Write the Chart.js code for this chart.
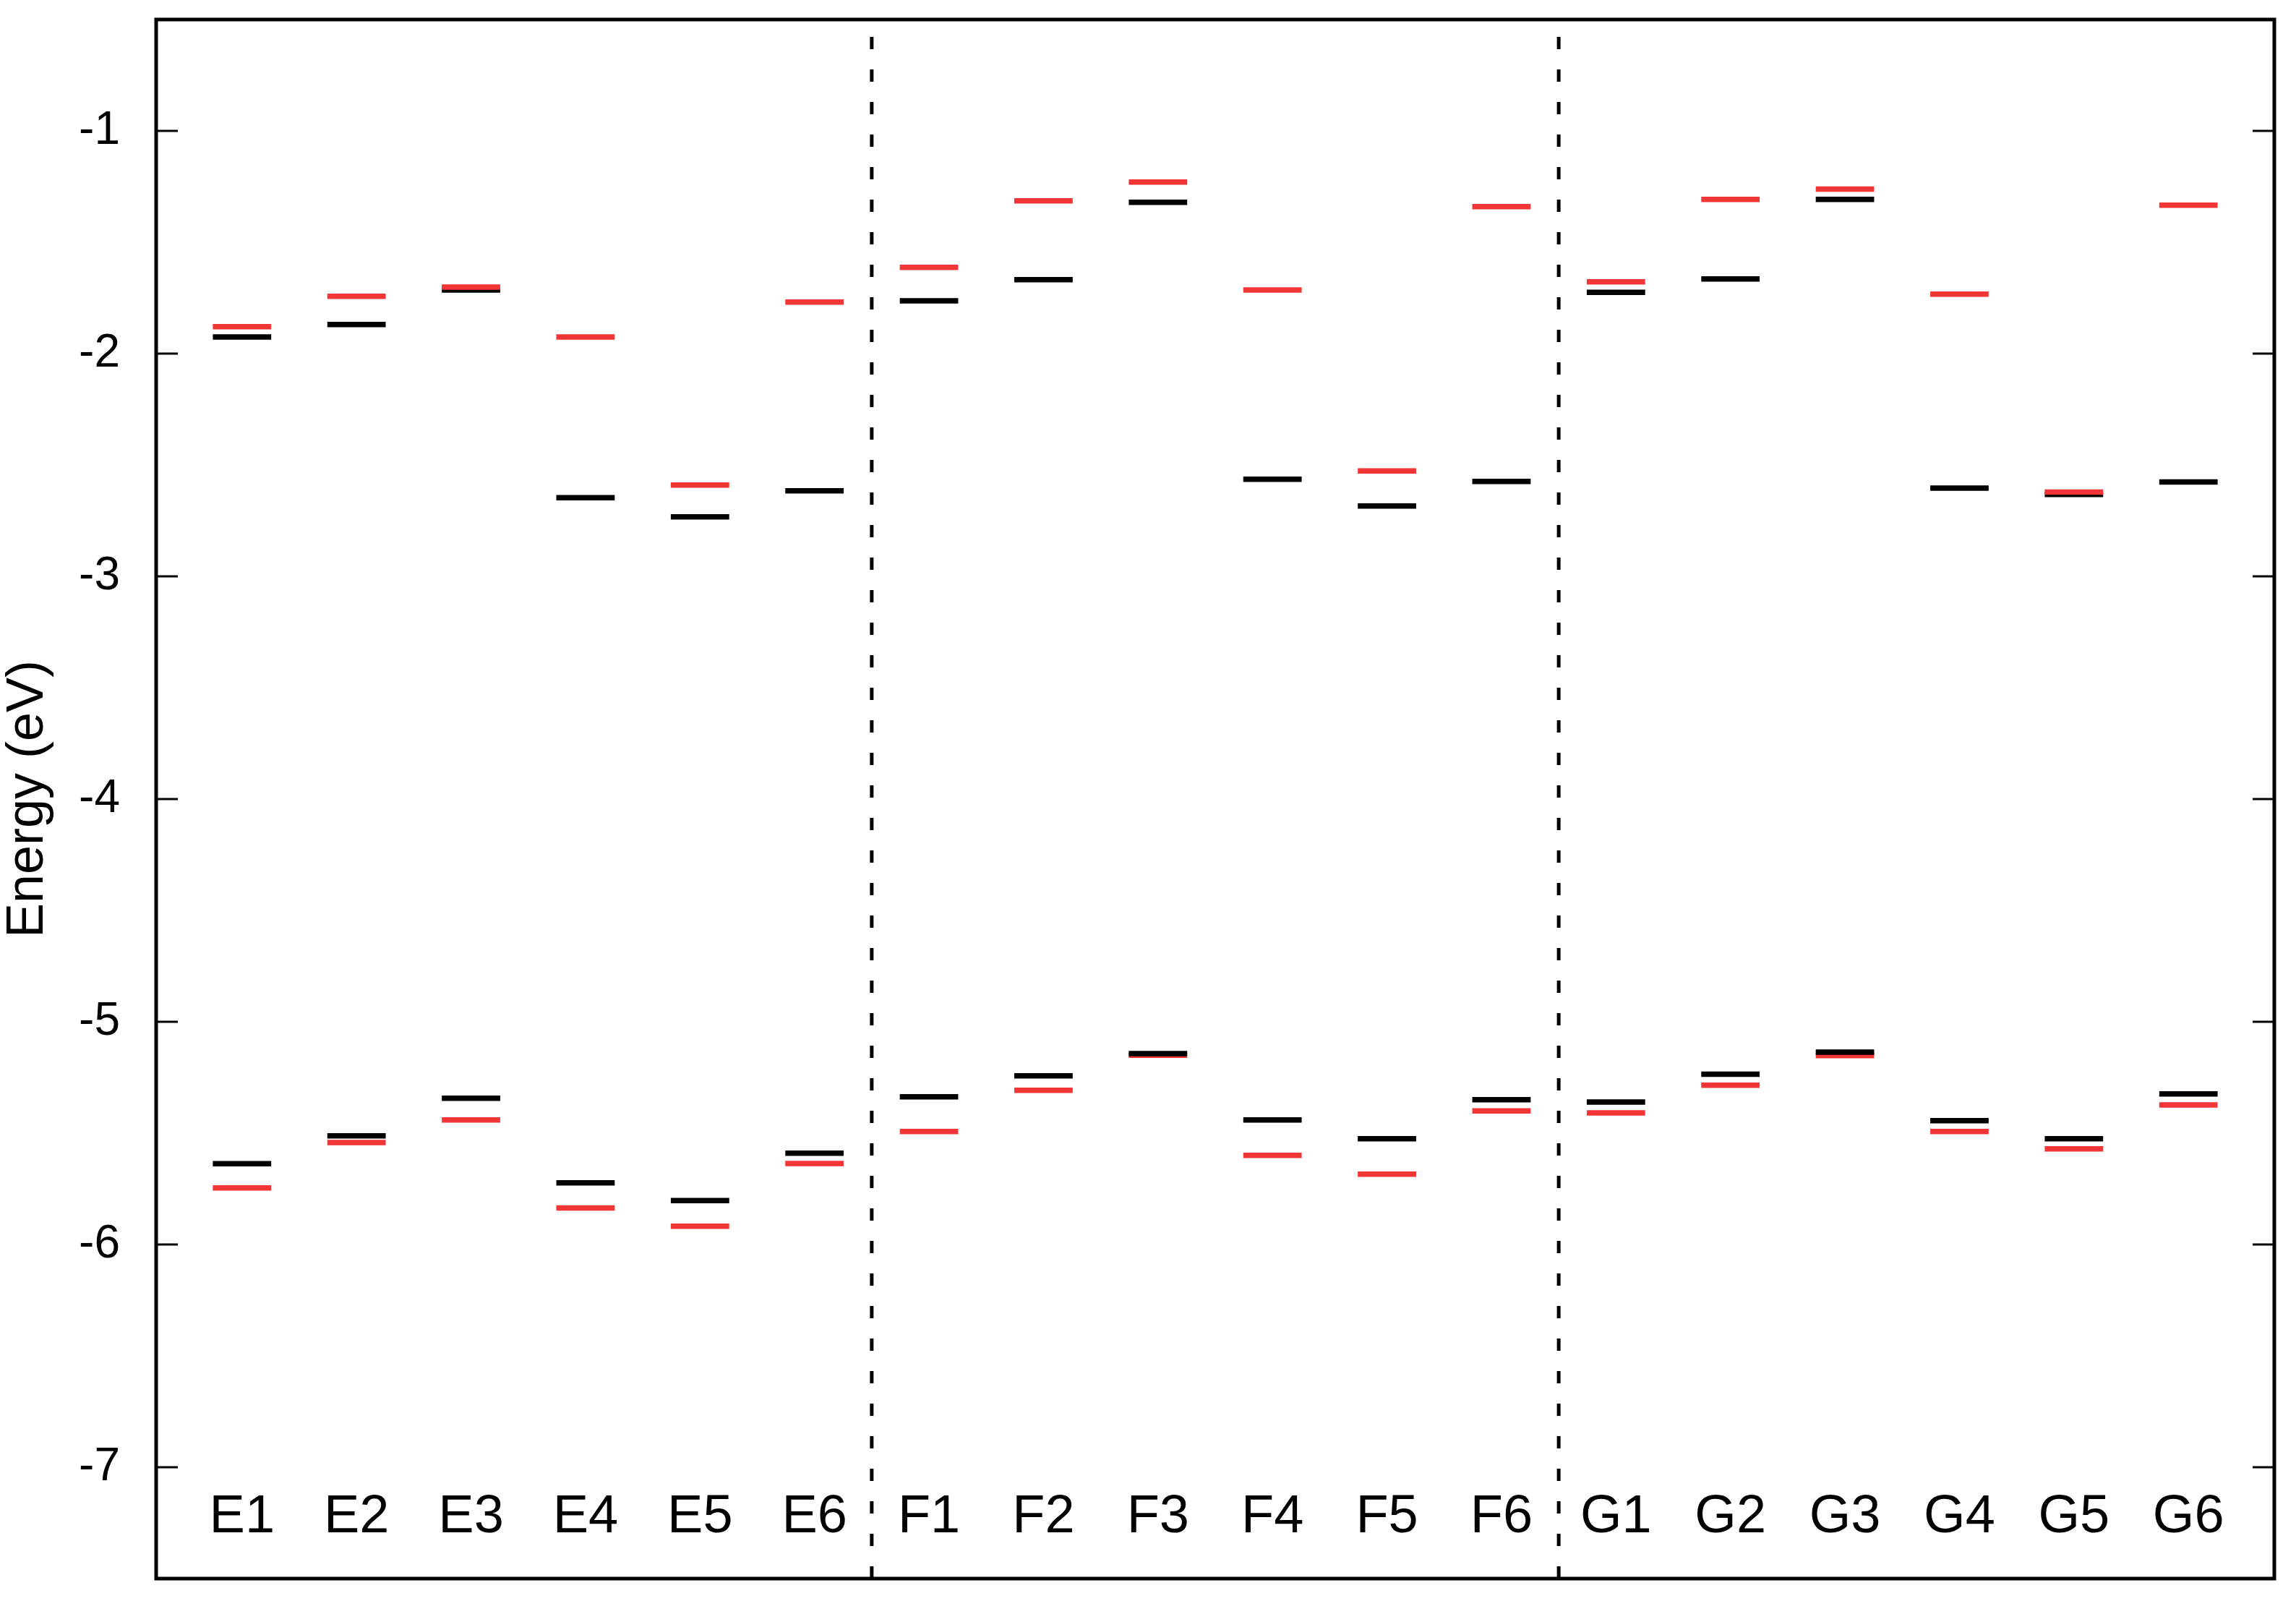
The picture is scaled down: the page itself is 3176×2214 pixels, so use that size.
<!DOCTYPE html>
<html>
<head>
<meta charset="utf-8">
<script src="https://cdn.jsdelivr.net/npm/chart.js@4/dist/chart.umd.min.js"></script>
<style>
  html, body { margin: 0; padding: 0; background: #fff; }
  #wrap { width: 3176px; height: 2214px; position: relative; }
</style>
</head>
<body>
<div id="wrap"><canvas id="myChart"></canvas></div>
<script>
'use strict';

var labels = ['E1', 'E2', 'E3', 'E4', 'E5', 'E6',
              'F1', 'F2', 'F3', 'F4', 'F5', 'F6',
              'G1', 'G2', 'G3', 'G4', 'G5', 'G6'];

// upper levels
var blackHigh = [-1.925, -1.869, -1.714, -2.647, -2.733, -2.616,
                 -1.763, -1.668, -1.321, -2.564, -2.684, -2.574,
                 -1.725, -1.665, -1.308, -2.604, -2.632, -2.576];
var redHigh = [-1.879, -1.743, -1.701, -1.925, -2.590, -1.769,
               -1.613, -1.314, -1.230, -1.714, -2.527, -1.340,
               -1.678, -1.308, -1.261, -1.733, -2.622, -1.334];

// lower levels
var blackLow = [-5.637, -5.512, -5.343, -5.723, -5.803, -5.590,
                -5.337, -5.243, -5.143, -5.441, -5.525, -5.350,
                -5.360, -5.235, -5.136, -5.444, -5.525, -5.324];
var redLow = [-5.746, -5.542, -5.441, -5.836, -5.918, -5.636,
              -5.493, -5.308, -5.150, -5.600, -5.684, -5.400,
              -5.409, -5.285, -5.152, -5.493, -5.571, -5.373];

var yTicks = [-7, -6, -5, -4, -3, -2, -1];
var separators = [6.5, 12.5];

var HALF = 0.255;
var RED = '#f23535';
var FONT = '"Liberation Sans", Arial, Helvetica, sans-serif';

function levels(vals) {
  var pts = [];
  vals.forEach(function(v, i) {
    pts.push({x: i + 1 - HALF, y: v});
    pts.push({x: i + 1 + HALF, y: v});
    pts.push({x: i + 1 + HALF, y: null});
  });
  return pts;
}

function levelSet(vals, color, order) {
  return {
    data: levels(vals),
    borderColor: color,
    borderWidth: 7.5,
    borderCapStyle: 'butt',
    pointRadius: 0,
    spanGaps: false,
    order: order
  };
}

var datasets = [
  levelSet(blackLow, '#000', 1),
  levelSet(redLow, RED, 2),
  levelSet(redHigh, RED, 1),
  levelSet(blackHigh, '#000', 2)
];

separators.forEach(function(s) {
  datasets.push({
    data: [{x: s, y: -7.5}, {x: s, y: -0.5}],
    borderColor: '#000',
    borderWidth: 5,
    borderDash: [17, 28],
    borderCapStyle: 'butt',
    pointRadius: 0,
    order: 5
  });
});

// frame, inward ticks and the category names inside the plot
var framePlugin = {
  id: 'frame',
  afterDraw: function(chart) {
    var c = chart.ctx;
    var a = chart.chartArea;
    var xs = chart.scales.x;
    var ys = chart.scales.y;
    c.save();
    c.strokeStyle = '#000';
    c.lineWidth = 3;
    yTicks.forEach(function(t) {
      var py = ys.getPixelForValue(t);
      c.beginPath();
      c.moveTo(a.left, py);
      c.lineTo(a.left + 30, py);
      c.moveTo(a.right, py);
      c.lineTo(a.right - 30, py);
      c.stroke();
    });
    c.lineWidth = 5;
    c.strokeRect(a.left, a.top, a.right - a.left, a.bottom - a.top);

    c.fillStyle = '#000';
    c.font = '74px ' + FONT;
    c.textAlign = 'center';
    c.textBaseline = 'middle';
    var ly = ys.getPixelForValue(-7.225);
    labels.forEach(function(l, i) {
      c.fillText(l, xs.getPixelForValue(i + 1), ly);
    });
    c.restore();
  }
};

var ctx = document.getElementById('myChart').getContext('2d');

var chart = new Chart(ctx, {
  type: 'line',
  data: { datasets: datasets },
  options: {
    responsive: true,
    maintainAspectRatio: false,
    animation: false,
    devicePixelRatio: 1,
    layout: { padding: { left: 0, top: 27, right: 30, bottom: 31 } },
    plugins: {
      legend: { display: false },
      tooltip: { enabled: false }
    },
    scales: {
      x: {
        type: 'linear',
        min: 0.25,
        max: 18.75,
        display: false
      },
      y: {
        type: 'linear',
        min: -7.5,
        max: -0.5,
        afterBuildTicks: function(scale) {
          scale.ticks = yTicks.map(function(v) { return {value: v}; });
        },
        afterFit: function(scale) {
          scale.width = 216;
          scale.paddingTop = 0;
          scale.paddingBottom = 0;
        },
        grid: { display: false, drawTicks: false },
        border: { display: false },
        ticks: {
          padding: 50,
          color: '#000',
          font: { family: FONT, size: 64 },
          callback: function(v) { return String(v); }
        },
        title: {
          display: true,
          text: 'Energy (eV)',
          color: '#000',
          padding: 0,
          font: { family: FONT, size: 72, lineHeight: 1.1 }
        }
      }
    }
  },
  plugins: [framePlugin]
});
</script>
</body>
</html>
